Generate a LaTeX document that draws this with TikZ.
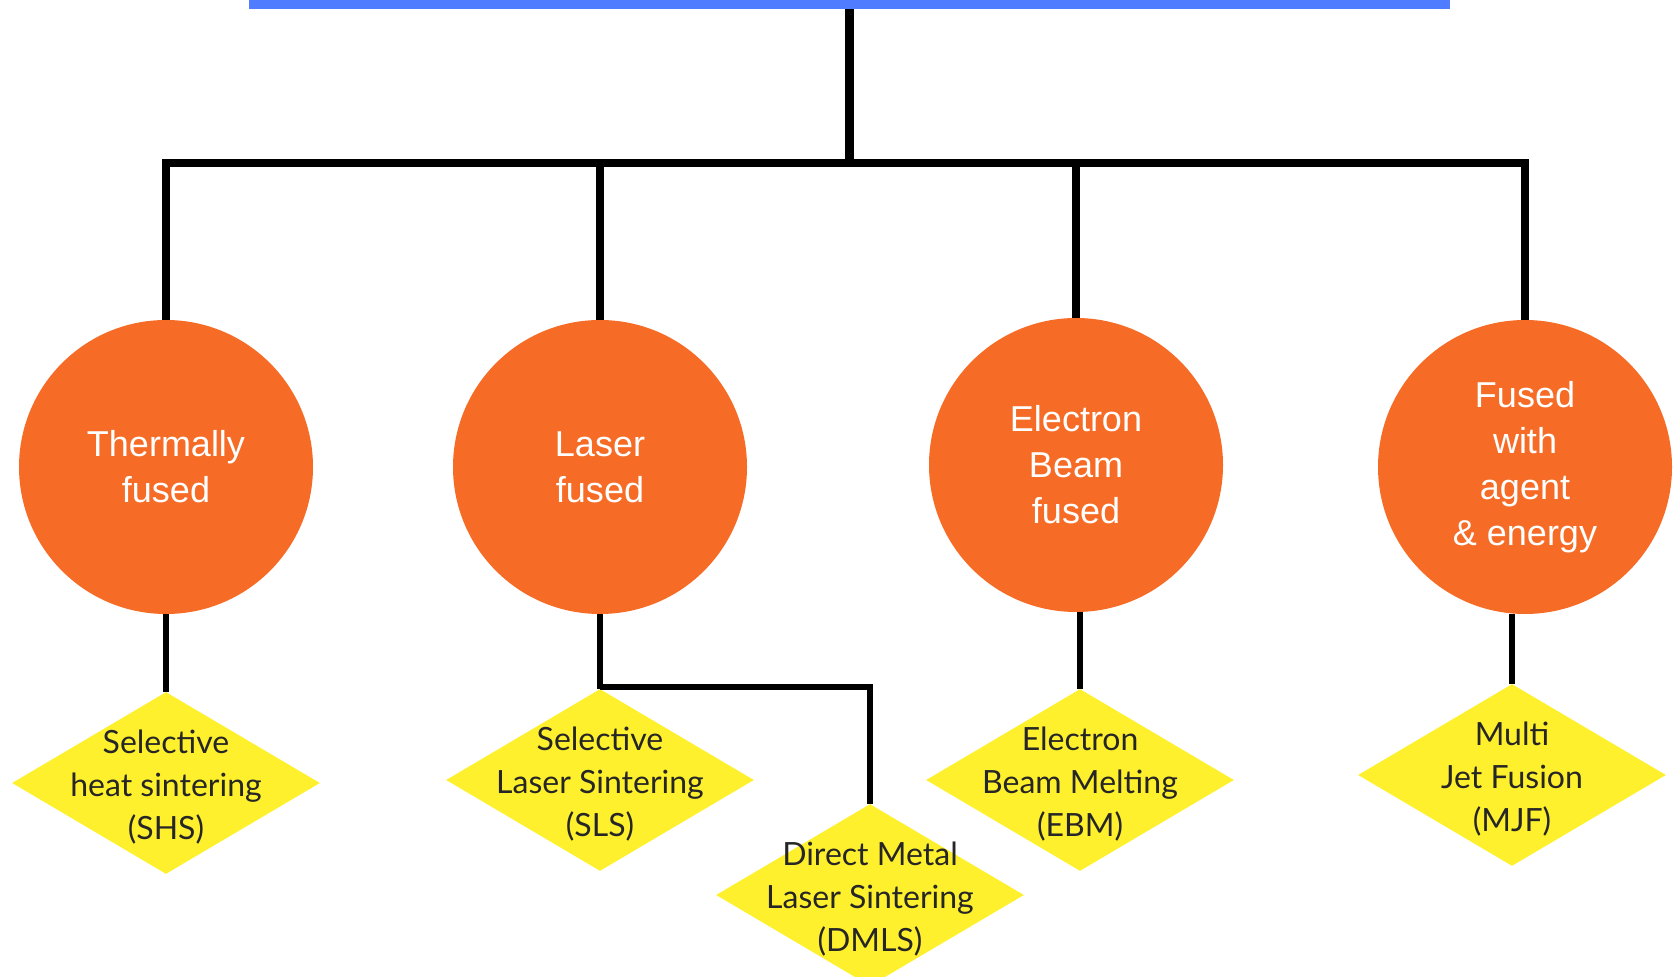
\documentclass[tikz,border=0pt]{standalone}
\usepackage{fontspec}
\setmainfont{Liberation Sans}
\newfontfamily\latofont{Lato}
\usetikzlibrary{shapes.geometric}

\definecolor{barblue}{RGB}{80,125,255}
\definecolor{fuseorange}{RGB}{246,108,38}
\definecolor{procyellow}{RGB}{255,240,45}

\begin{document}
\begin{tikzpicture}[x=0.5pt, y=-0.5pt,
    link/.style={line width=4.3pt},
    sublink/.style={line width=3pt},
    method/.style={circle, fill=fuseorange, minimum size=147pt, inner sep=0pt,
        text=white, align=center, font=\fontsize{18}{23}\selectfont},
    process/.style={diamond, fill=procyellow, minimum width=154pt,
        minimum height=91pt, inner sep=0pt},
    proclabel/.style={align=center, text=black!85, yshift=-1.8pt,
        font=\latofont\fontsize{16}{21.5}\selectfont}]
\useasboundingbox (0,0) rectangle (1675,977);

% Bar
\node[fill=barblue, minimum width=600.5pt, minimum height=4.5pt, inner sep=0pt] (bar) at (849.5,4.5) {};
\coordinate (hub) at (849.5,163);

% Fusion types
\node[method] (thermal) at (166,467) {Thermally\\fused};
\node[method] (laser) at (600,467) {Laser\\fused};
\node[method] (ebeam) at (1076,465) {Electron\\Beam\\fused};
\node[method] (agent) at (1525,467) {Fused\\with\\agent\\\& energy};

% Processes
\node[process, label={[proclabel]center:Selective\\heat sintering\\(SHS)}] (shs) at (166,783) {};
\node[process, label={[proclabel]center:Selective\\Laser Sintering\\(SLS)}] (sls) at (600,780) {};
\node[process, label={[proclabel]center:Direct Metal\\Laser Sintering\\(DMLS)}] (dmls) at (870,895) {};
\node[process, label={[proclabel]center:Electron\\Beam Melting\\(EBM)}] (ebm) at (1080,780) {};
\node[process, label={[proclabel]center:Multi\\Jet Fusion\\(MJF)}] (mjf) at (1512,775) {};

% Tree
\draw[link] (bar.south) -- (hub);
\draw[link] (thermal.north) |- (hub) -| (agent.north);
\draw[link] (laser.north) -- (laser.north |- hub);
\draw[link] (ebeam.north) -- (ebeam.north |- hub);

\coordinate (bend) at (600,687);
\draw[sublink] (shs.north) -- (shs.north |- thermal.south);
\draw[sublink] (laser.south) -- (sls.north);
\draw[sublink] (bend) -| (dmls.north);
\draw[sublink] (ebm.north) -- (ebm.north |- ebeam.south);
\draw[sublink] (mjf.north) -- (mjf.north |- agent.south);
\end{tikzpicture}
\end{document}
